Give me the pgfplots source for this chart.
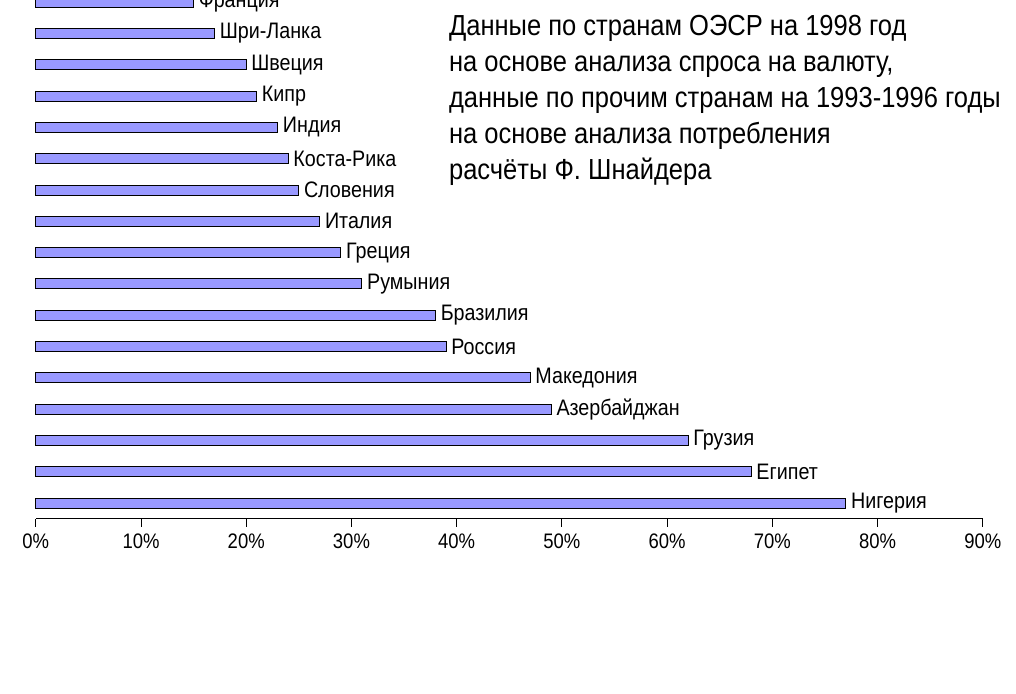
\documentclass[border=0pt]{standalone}
\usepackage{pgfplots}
\pgfplotsset{compat=1.18}
\usepackage{fontspec}
\setmainfont[FakeStretch=0.88]{Liberation Sans}
\begin{document}
\begin{tikzpicture}[x=1pt,y=1pt]
\path[use as bounding box] (0,0) rectangle (508,347);
\begin{axis}[at={(34,56)},anchor=south west,scale only axis,
 width=473.5pt,height=313pt,
 xbar, bar width=5pt,
 xmin=0,xmax=90,ymin=-0.5,ymax=19.5,
 axis y line=none, axis x line*=bottom,
 xtick={0,10,...,90}, xticklabel={\pgfmathprintnumber{\tick}\%},
 /pgf/number format/assume math mode=true,
 tick style={black,thin}, tick align=outside, major tick length=4pt,
 xticklabel style={font=\fontsize{10.5}{12}\selectfont},
 ytick=\empty,
 nodes near coords={\labelname}, visualization depends on={value \thisrow{n}\as\labelname},
 nodes near coords style={font=\fontsize{11.2}{12}\selectfont,anchor=west,xshift=-1pt},
 clip=false]
\addplot[fill={rgb,255:red,153;green,153;blue,255},draw=black,line width=0.5pt] table[x=v,y=i]{
i v n
0 77 Нигерия
1 68 Египет
2 62 Грузия
3 49 Азербайджан
4 47 Македония
5 39 Россия
6 38 Бразилия
7 31 Румыния
8 29 Греция
9 27 Италия
10 25 Словения
11 24 Коста-Рика
12 23 Индия
13 21 Кипр
14 20 Швеция
15 17 Шри-Ланка
16 15 Франция
17 12 Гонконг
18 8 Австрия
19 7 Швейцария
};
\end{axis}
\node[anchor=north west,align=left,font=\fontsize{14.5}{18}\selectfont] at (221,343)
{Данные по странам ОЭСР на 1998 год\\на основе анализа спроса на валюту,\\данные по прочим странам на 1993-1996 годы\\на основе анализа потребления\\расчёты Ф. Шнайдера};
\end{tikzpicture}
\end{document}
